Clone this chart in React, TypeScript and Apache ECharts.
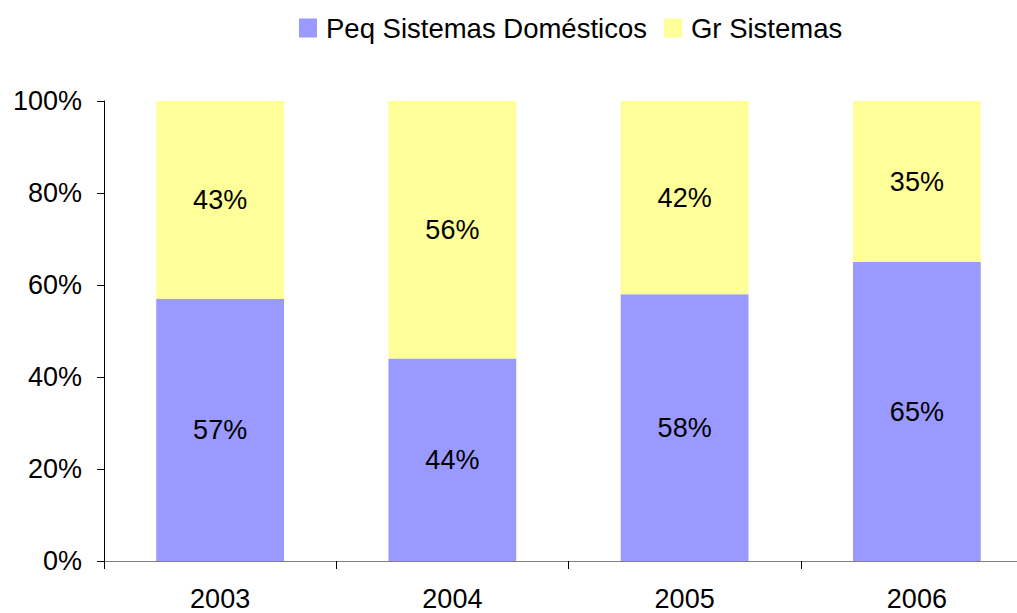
import React, { useEffect, useRef } from "react";
import * as echarts from "echarts";

const years = ["2003", "2004", "2005", "2006"];
const peqValues = [57, 44, 58, 65];
const grValues = [43, 56, 42, 35];
const yTicks = [0, 20, 40, 60, 80, 100];

export default function App() {
  const ref = useRef<HTMLDivElement>(null);
  useEffect(() => {
    if (!ref.current) return;
    const chart = echarts.init(ref.current, null, { renderer: "svg" });
    const font = "Liberation Sans, Arial, sans-serif";
    const labelStyle = {
      show: true,
      position: "inside",
      formatter: "{c}%",
      color: "#000",
      fontSize: 27,
      fontFamily: font,
    };
    chart.setOption({
      animation: false,
      backgroundColor: "#fff",
      textStyle: { fontFamily: font },
      legend: {
        top: 9,
        left: 294,
        itemWidth: 18,
        itemHeight: 19,
        itemGap: 17,
        icon: "rect",
        textStyle: { fontSize: 27.5, color: "#000", fontFamily: font, padding: [0, 0, 0, 4] },
        data: ["Peq Sistemas Domésticos", "Gr Sistemas"],
      },
      grid: { left: 104, top: 101, width: 929, height: 460, outerBoundsMode: "none", containLabel: false },
      xAxis: {
        type: "category",
        data: years,
        axisLine: { lineStyle: { color: "#808080", width: 1 } },
        axisTick: { show: true, length: 8, lineStyle: { color: "#000" } },
        axisLabel: { fontSize: 27, color: "#000", margin: 24, fontFamily: font },
      },
      yAxis: {
        type: "value",
        min: yTicks[0],
        max: yTicks[yTicks.length - 1],
        interval: 20,
        axisLine: { show: true, lineStyle: { color: "#000", width: 1 } },
        axisTick: { show: true, length: 7, lineStyle: { color: "#000" } },
        splitLine: { show: false },
        axisLabel: { formatter: "{value}%", fontSize: 27, color: "#000", margin: 22, fontFamily: font },
      },
      series: [
        {
          name: "Peq Sistemas Domésticos",
          type: "bar",
          stack: "total",
          barWidth: "55%",
          data: peqValues,
          itemStyle: { color: "#9999FF" },
          label: labelStyle,
        },
        {
          name: "Gr Sistemas",
          type: "bar",
          stack: "total",
          barWidth: "55%",
          data: grValues,
          itemStyle: { color: "#FFFF99" },
          label: labelStyle,
        },
      ],
    });
    return () => chart.dispose();
  }, []);
  return (
    <div
      ref={ref}
      style={{ position: "absolute", left: 0, top: 0, width: 1017, height: 613 }}
    />
  );
}
